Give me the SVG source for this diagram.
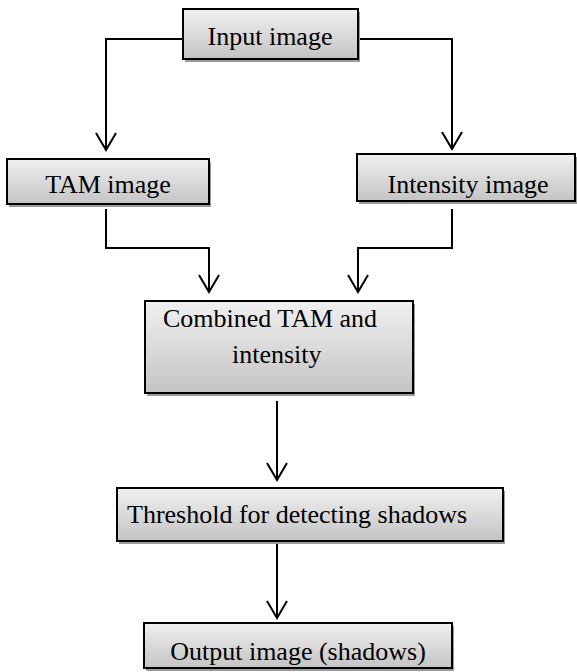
<svg xmlns="http://www.w3.org/2000/svg" width="577" height="672" viewBox="0 0 577 672">
<defs>
<linearGradient id="g" x1="0" y1="0" x2="0" y2="1">
<stop offset="0" stop-color="#f0f0f0"/>
<stop offset="1" stop-color="#c4c4c4"/>
</linearGradient>
<marker id="a" markerUnits="userSpaceOnUse" markerWidth="24" markerHeight="24" viewBox="-20 -12 24 24" refX="0" refY="0" orient="auto">
<path d="M-17,-10 L0,0 L-17,10" fill="none" stroke="#000" stroke-width="2"/>
</marker>
<clipPath id="c1"><rect x="8" y="160" width="200" height="43"/></clipPath>
<clipPath id="c2"><rect x="358" y="155" width="216" height="45"/></clipPath>
</defs>
<style>
.sh{fill:#9a9a9a}
.bx{fill:url(#g);stroke:#000;stroke-width:2}
.t{font-family:"Liberation Serif","Times New Roman",serif;font-size:26px;fill:#000}
.ln{fill:none;stroke:#000;stroke-width:2;marker-end:url(#a)}
</style>
<rect width="577" height="672" fill="#fff"/>
<g id="connectors">
<path class="ln" d="M183,39 H106 V150"/>
<path class="ln" d="M358,39 H452 V149"/>
<path class="ln" d="M106,209 V248 H209 V292"/>
<path class="ln" d="M452,209 V248 H358 V292"/>
<path class="ln" d="M277,401 V480"/>
<path class="ln" d="M277,541 V618"/>
</g>
<g id="input">
<rect class="sh" x="185" y="12" width="175" height="50"/>
<rect class="bx" x="183" y="9" width="175" height="50"/>
<text class="t" x="270" y="45" text-anchor="middle">Input image</text>
</g>
<g id="tam">
<rect class="sh" x="9" y="162" width="202" height="45"/>
<rect class="bx" x="7" y="159" width="202" height="45"/>
<text class="t" x="108" y="193" text-anchor="middle" clip-path="url(#c1)">TAM image</text>
</g>
<g id="intensity">
<rect class="sh" x="359" y="157" width="218" height="47"/>
<rect class="bx" x="357" y="154" width="218" height="47"/>
<text class="t" x="468" y="193" text-anchor="middle" clip-path="url(#c2)">Intensity image</text>
</g>
<g id="combined">
<rect class="sh" x="147" y="304" width="268" height="92"/>
<rect class="bx" x="145" y="301" width="268" height="92"/>
<text class="t" x="163" y="327">Combined TAM and</text>
<text class="t" x="232" y="363">intensity</text>
</g>
<g id="threshold">
<rect class="sh" x="119" y="491" width="386" height="53"/>
<rect class="bx" x="117" y="488" width="386" height="53"/>
<text class="t" x="127" y="523">Threshold for detecting shadows</text>
</g>
<g id="output">
<rect class="sh" x="146" y="626" width="308" height="45"/>
<rect class="bx" x="144" y="623" width="308" height="45"/>
<text class="t" x="298" y="660" text-anchor="middle">Output image (shadows)</text>
</g>
</svg>
